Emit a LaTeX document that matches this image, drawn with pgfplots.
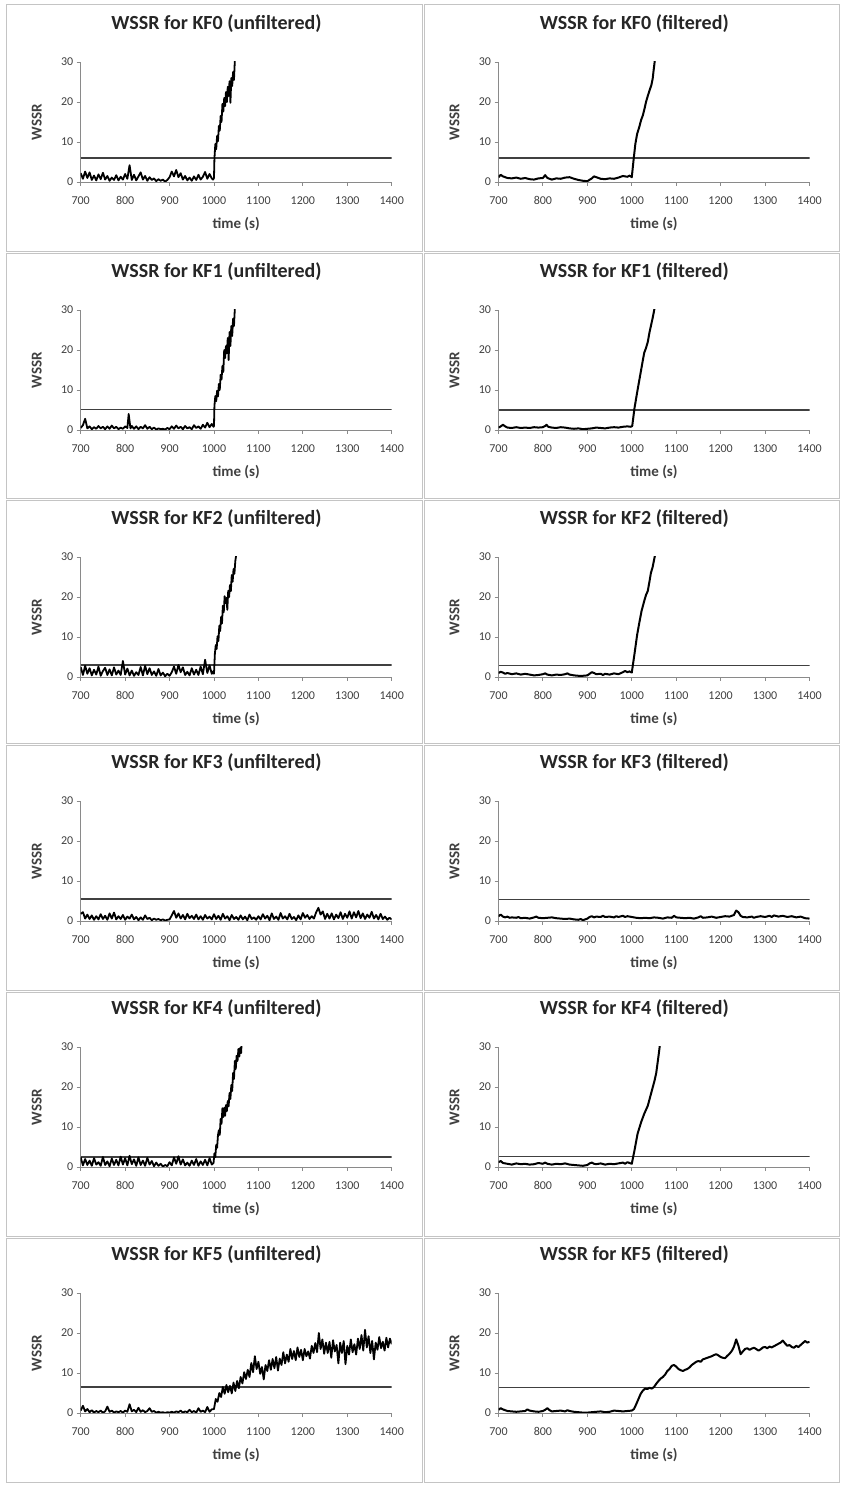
\documentclass[border=0pt]{standalone}
\usepackage{fontspec}
\setmainfont{Carlito}
\usepackage{pgfplots}
\pgfplotsset{compat=1.18}
\definecolor{axisgray}{HTML}{8A8A8A}
\definecolor{framegray}{HTML}{C4C4C4}
\definecolor{tickgray}{HTML}{404040}
\pgfplotsset{
  panel/.style={
    scale only axis, width=311pt, height=120pt,
    xmin=700, xmax=1400, ymin=0, ymax=30,
    axis lines=left, axis line style={draw=axisgray, line width=0.9pt, -},
    xtick={700,800,...,1400}, ytick={0,10,20,30},
    tick align=outside, major tick length=4pt,
    tick style={draw=axisgray, line width=0.9pt},
    every tick label/.append style={font=\fontsize{12}{14}\selectfont, text=tickgray},
    xticklabel style={yshift=-7pt},
    /pgf/number format/assume math mode=true,
    /pgf/number format/1000 sep={},
    xlabel={time (s)}, ylabel={WSSR},
    every axis label/.append style={font=\bfseries\fontsize{15}{17}\selectfont, text=tickgray},
    xlabel style={at={(axis description cs:0.5,-0.35)}, anchor=center},
    ylabel style={at={(axis description cs:-0.1415,0.5)}, anchor=center},
    title style={at={(axis description cs:0.4367,1.2667)}, anchor=center,
      font=\bfseries\fontsize{20}{24}\selectfont, text=black!85},
  },
  raw/.style={black, line width=1.8pt, line join=round},
  flt/.style={black, line width=2pt, line join=round},
  limit/.style={black!75, line width=1.2pt},
}
\begin{document}
\begin{tikzpicture}
\fill[white] (0pt,0pt) rectangle (841pt,1485pt);
\path[use as bounding box] (0pt,0pt) rectangle (841pt,1485pt);
% chart borders
\foreach \t/\b in {1480/1233, 1231/986, 984/741, 739/494, 492/248, 246/2}{
  \draw[framegray, line width=1pt] (6pt,\t pt) rectangle (422pt,\b pt);
  \draw[framegray, line width=1pt] (424pt,\t pt) rectangle (839pt,\b pt);
}

% ---------------- KF0 ----------------
\begin{axis}[panel, at={(80.7pt,1303pt)}, anchor=south west, title={WSSR for KF0 (unfiltered)}]
\addplot[limit] coordinates {(700,6) (1400,6)};
\addplot[raw] coordinates {
(700,2.2) (705,0.8) (710,2.6) (715,1.0) (720,2.4) (725,0.5) (730,1.6) (735,0.4) (740,1.9) (745,0.7)
(750,2.3) (755,0.6) (760,1.5) (765,0.3) (770,1.1) (775,0.5) (780,1.7) (785,0.4) (790,1.3) (795,0.6)
(800,2.0) (805,0.8) (810,4.2) (815,0.5) (820,1.8) (825,0.4) (830,1.4) (835,2.4) (840,0.6) (845,1.5)
(850,0.3) (855,1.2) (860,0.5) (865,0.9) (870,0.2) (875,0.7) (880,0.3) (885,0.6) (890,0.1) (895,0.5)
(900,1.2) (905,2.6) (910,1.4) (915,3.0) (920,1.2) (925,2.2) (930,0.6) (935,1.5) (940,0.4) (945,1.1)
(950,0.3) (955,1.4) (960,0.5) (965,1.8) (970,0.6) (975,1.3) (980,2.5) (985,0.8) (990,2.0) (995,0.9)
(998,0.6) (1000,1.0) (1001,5.8) (1003,9.5) (1005,8.2) (1007,11.5) (1009,10.2) (1011,14.0) (1013,12.8)
(1015,16.5) (1017,15.0) (1019,19.5) (1021,17.6) (1023,21.0) (1025,19.0) (1027,22.5) (1029,20.0)
(1031,23.8) (1033,21.5) (1035,25.2) (1037,19.8) (1039,26.0) (1041,24.0) (1043,27.5) (1045,25.5) (1047,30.5)
};
\end{axis}
\begin{axis}[panel, at={(498.5pt,1303pt)}, anchor=south west, title={WSSR for KF0 (filtered)}]
\addplot[limit] coordinates {(700,6) (1400,6)};
\addplot[flt] coordinates {
(700,1.2) (705,1.8) (710,1.4) (720,1.0) (730,0.9) (740,1.1) (750,0.8) (760,1.0) (770,0.7) (780,0.6)
(790,0.9) (800,1.0) (805,1.7) (810,1.0) (820,0.6) (830,0.9) (840,0.8) (850,1.1) (860,1.2) (870,0.8)
(880,0.5) (890,0.3) (900,0.2) (910,0.9) (915,1.4) (920,1.2) (930,0.8) (940,0.7) (950,0.9) (960,0.8)
(970,1.1) (980,1.5) (990,1.3) (995,1.6) (1000,1.2) (1004,5.5) (1008,9.5) (1012,12.0) (1017,13.8)
(1021,15.5) (1025,16.7) (1029,18.5) (1032,20.0) (1036,21.5) (1040,22.9) (1044,24.2) (1047,25.8)
(1049,27.8) (1052,30.5)
};
\end{axis}

% ---------------- KF1 ----------------
\begin{axis}[panel, at={(80.7pt,1055pt)}, anchor=south west, title={WSSR for KF1 (unfiltered)}]
\addplot[limit] coordinates {(700,5.1) (1400,5.1)};
\addplot[raw] coordinates {
(700,0.5) (705,1.2) (710,2.8) (715,0.4) (720,0.9) (725,0.2) (730,0.7) (735,0.3) (740,1.0) (745,0.4)
(750,0.8) (755,0.2) (760,0.9) (765,0.3) (770,1.1) (775,0.4) (780,0.8) (785,0.2) (790,0.6) (795,0.3)
(800,0.9) (805,0.5) (808,4.0) (812,0.4) (815,1.0) (820,0.3) (825,0.9) (830,0.2) (835,0.8) (840,0.4)
(845,1.2) (850,0.3) (855,0.8) (860,0.2) (865,0.6) (870,0.1) (875,0.4) (880,0.2) (885,0.3) (890,0.1)
(895,0.5) (900,0.2) (905,0.9) (910,0.3) (915,1.1) (920,0.4) (925,0.8) (930,0.2) (935,1.0) (940,0.4)
(945,0.7) (950,0.2) (955,1.2) (960,0.5) (965,0.9) (970,0.3) (975,1.3) (980,0.6) (985,1.8) (990,0.7)
(995,1.5) (999,0.8) (1000,1.0) (1001,6.0) (1003,8.5) (1005,7.2) (1007,9.8) (1009,8.4) (1011,11.5)
(1013,10.0) (1015,13.8) (1017,12.6) (1019,16.0) (1021,14.5) (1023,20.0) (1025,18.0) (1027,21.0)
(1029,19.2) (1031,23.0) (1033,17.5) (1035,24.5) (1037,21.0) (1039,26.0) (1041,23.5) (1043,27.8)
(1045,26.0) (1047,30.5)
};
\end{axis}
\begin{axis}[panel, at={(498.5pt,1055pt)}, anchor=south west, title={WSSR for KF1 (filtered)}]
\addplot[limit] coordinates {(700,5.0) (1400,5.0)};
\addplot[flt] coordinates {
(700,0.6) (705,0.9) (710,1.3) (715,0.9) (720,0.6) (730,0.5) (740,0.7) (750,0.5) (760,0.6) (770,0.5)
(780,0.7) (790,0.6) (800,0.7) (805,1.0) (808,1.3) (812,0.8) (820,0.6) (830,0.5) (840,0.7) (850,0.6)
(860,0.4) (870,0.3) (880,0.4) (890,0.2) (900,0.3) (910,0.4) (920,0.6) (930,0.5) (940,0.4) (950,0.6)
(960,0.7) (970,0.6) (980,0.8) (990,0.9) (998,0.8) (1001,1.0) (1006,5.4) (1013,10.0) (1021,15.0)
(1025,17.5) (1028,19.3) (1032,20.5) (1036,22.0) (1040,24.5) (1043,26.0) (1047,28.0) (1051,30.3)
};
\end{axis}

% ---------------- KF2 ----------------
\begin{axis}[panel, at={(80.7pt,808pt)}, anchor=south west, title={WSSR for KF2 (unfiltered)}]
\addplot[limit] coordinates {(700,3.0) (1400,3.0)};
\addplot[raw] coordinates {
(700,2.5) (705,0.5) (710,2.8) (715,0.8) (720,2.2) (725,0.4) (730,1.8) (735,0.6) (740,2.6) (745,0.3)
(750,1.5) (755,2.3) (760,0.5) (765,1.9) (770,0.4) (775,2.4) (780,0.6) (785,1.6) (790,0.5) (795,4.0)
(800,0.6) (805,2.1) (810,0.4) (815,1.6) (820,0.3) (825,1.2) (830,0.5) (835,2.5) (840,0.4) (845,2.8)
(850,0.7) (855,2.2) (860,0.5) (865,1.4) (870,0.3) (875,2.0) (880,0.4) (885,1.1) (890,0.2) (895,0.8)
(900,0.3) (905,1.2) (910,2.6) (915,0.8) (920,3.0) (925,1.2) (930,2.4) (935,0.5) (940,1.3) (945,0.4)
(950,2.2) (955,0.6) (960,1.8) (965,0.5) (970,2.6) (975,0.7) (980,4.3) (985,1.0) (990,2.9) (995,0.8)
(999,1.5) (1000,0.8) (1002,5.8) (1004,8.0) (1006,7.0) (1008,10.2) (1010,9.0) (1012,12.8) (1014,11.5)
(1016,15.0) (1018,13.4) (1020,17.8) (1022,16.2) (1024,20.2) (1026,18.5) (1028,19.8) (1030,16.8)
(1032,21.5) (1034,20.0) (1036,23.0) (1038,21.5) (1040,25.5) (1042,23.8) (1044,27.0) (1046,25.8)
(1048,29.0) (1050,30.5)
};
\end{axis}
\begin{axis}[panel, at={(498.5pt,808pt)}, anchor=south west, title={WSSR for KF2 (filtered)}]
\addplot[limit] coordinates {(700,2.8) (1400,2.8)};
\addplot[flt] coordinates {
(700,1.0) (705,1.3) (710,1.1) (715,0.8) (720,1.0) (730,0.7) (740,0.9) (750,0.6) (760,0.8) (770,0.6)
(780,0.4) (790,0.5) (800,0.7) (805,0.9) (810,0.6) (820,0.4) (830,0.6) (840,0.5) (850,0.7) (855,0.9)
(860,0.6) (870,0.4) (880,0.3) (890,0.3) (900,0.4) (905,0.8) (910,1.2) (915,1.0) (920,0.7) (930,0.8)
(935,0.5) (940,0.8) (950,0.6) (960,0.9) (970,0.7) (980,1.2) (985,1.5) (990,1.2) (995,1.4) (1000,1.1)
(1006,5.7) (1012,10.5) (1017,13.6) (1022,16.5) (1028,19.0) (1032,20.5) (1036,21.5) (1040,24.0)
(1043,26.0) (1047,27.5) (1052,30.3)
};
\end{axis}

% ---------------- KF3 ----------------
\begin{axis}[panel, at={(80.7pt,564pt)}, anchor=south west, title={WSSR for KF3 (unfiltered)}]
\addplot[limit] coordinates {(700,5.5) (1400,5.5)};
\addplot[raw] coordinates {
(700,1.8) (705,2.2) (710,0.6) (715,1.6) (720,0.5) (725,1.4) (730,0.3) (735,1.2) (740,0.4) (745,1.7)
(750,0.5) (755,1.3) (760,0.3) (765,1.9) (770,0.6) (775,2.1) (780,0.4) (785,1.2) (790,0.5) (795,1.5)
(800,0.3) (805,1.1) (810,0.6) (815,1.6) (820,0.4) (825,1.0) (830,0.2) (835,0.9) (840,0.3) (845,1.4)
(850,0.5) (855,0.8) (860,0.2) (865,0.6) (870,0.3) (875,0.5) (880,0.2) (885,0.4) (890,0.1) (895,0.3)
(900,0.4) (905,1.4) (910,2.5) (915,0.8) (920,1.9) (925,0.6) (930,1.5) (935,0.4) (940,1.8) (945,0.7)
(950,1.3) (955,0.5) (960,1.6) (965,0.4) (970,1.2) (975,0.3) (980,1.5) (985,0.6) (990,1.1) (995,0.4)
(1000,1.7) (1005,0.5) (1010,1.3) (1015,0.3) (1020,1.8) (1025,0.6) (1030,1.2) (1035,0.2) (1040,1.5)
(1045,0.5) (1050,1.0) (1055,0.3) (1060,1.4) (1065,0.4) (1070,1.1) (1075,0.2) (1080,1.6) (1085,0.5)
(1090,0.9) (1095,0.3) (1100,1.2) (1105,0.4) (1110,1.7) (1115,0.6) (1120,1.3) (1125,0.2) (1130,1.9)
(1135,0.5) (1140,1.1) (1145,0.3) (1150,2.0) (1155,0.6) (1160,1.2) (1165,0.4) (1170,1.8) (1175,0.5)
(1180,1.0) (1185,0.2) (1190,1.4) (1195,0.4) (1200,2.0) (1205,0.8) (1210,1.5) (1215,0.5) (1220,1.2)
(1225,0.6) (1230,2.2) (1235,3.3) (1240,1.6) (1245,2.4) (1250,0.5) (1255,1.8) (1260,0.6) (1265,1.9)
(1270,0.4) (1275,1.6) (1280,0.7) (1285,2.2) (1290,0.5) (1295,1.8) (1300,0.8) (1305,2.4) (1310,0.6)
(1315,2.2) (1320,0.9) (1325,2.5) (1330,0.7) (1335,1.9) (1340,0.5) (1345,1.6) (1350,0.8) (1355,2.3)
(1360,0.6) (1365,1.5) (1370,0.4) (1375,1.8) (1380,0.5) (1385,1.1) (1390,0.3) (1395,0.8) (1400,0.4)
};
\end{axis}
\begin{axis}[panel, at={(498.5pt,564pt)}, anchor=south west, title={WSSR for KF3 (filtered)}]
\addplot[limit] coordinates {(700,5.4) (1400,5.4)};
\addplot[flt] coordinates {
(700,1.2) (705,1.6) (710,1.1) (715,0.9) (720,1.1) (725,0.8) (730,0.9) (740,0.8) (745,1.0) (750,0.7)
(760,0.8) (770,0.6) (780,0.9) (785,1.1) (790,0.8) (800,0.7) (810,0.8) (820,0.9) (830,0.7) (840,0.6)
(850,0.5) (860,0.6) (870,0.4) (880,0.3) (885,0.5) (890,0.2) (900,0.6) (905,1.0) (910,1.2) (915,0.9)
(920,1.1) (930,1.0) (935,1.3) (940,1.0) (950,1.1) (960,0.9) (965,1.2) (970,1.0) (980,1.3) (985,1.0)
(990,1.2) (1000,1.0) (1010,0.8) (1020,0.7) (1030,0.8) (1040,0.7) (1050,0.9) (1060,0.8) (1070,0.6)
(1080,0.9) (1090,0.8) (1095,1.3) (1100,0.9) (1110,0.8) (1120,0.7) (1130,0.8) (1140,0.6) (1150,0.9)
(1155,1.2) (1160,0.8) (1170,0.9) (1180,1.1) (1190,0.8) (1200,1.0) (1210,1.2) (1220,1.1) (1230,1.5)
(1235,2.6) (1240,2.2) (1245,1.3) (1250,1.0) (1260,0.9) (1270,1.1) (1275,0.8) (1280,1.0) (1290,1.2)
(1300,1.0) (1310,1.3) (1315,1.0) (1320,1.4) (1330,1.1) (1340,1.3) (1350,1.0) (1360,1.2) (1370,0.9)
(1380,1.1) (1390,0.7) (1400,0.6)
};
\end{axis}

% ---------------- KF4 ----------------
\begin{axis}[panel, at={(80.7pt,318pt)}, anchor=south west, title={WSSR for KF4 (unfiltered)}]
\addplot[limit] coordinates {(700,2.5) (1400,2.5)};
\addplot[raw] coordinates {
(700,2.4) (705,0.4) (710,2.0) (715,0.5) (720,1.6) (725,0.3) (730,2.2) (735,0.6) (740,1.2) (745,0.3)
(750,2.5) (755,0.5) (760,1.4) (765,0.2) (770,2.1) (775,0.5) (780,1.8) (785,0.4) (790,2.6) (795,0.6)
(800,2.2) (805,0.4) (810,2.8) (815,0.7) (820,1.9) (825,0.3) (830,2.4) (835,0.5) (840,1.6) (845,0.3)
(850,2.3) (855,0.6) (860,1.5) (865,0.2) (870,1.1) (875,0.3) (880,0.8) (885,0.1) (890,0.5) (895,0.2)
(900,1.2) (905,0.4) (910,2.4) (915,0.8) (920,2.7) (925,0.6) (930,1.9) (935,0.4) (940,1.1) (945,0.3)
(950,1.6) (955,0.5) (960,2.0) (965,0.3) (970,1.4) (975,0.5) (980,1.8) (985,0.4) (990,2.2) (995,0.6)
(999,1.0) (1001,3.4) (1003,2.5) (1005,5.5) (1007,4.8) (1009,8.0) (1011,9.2) (1013,8.0) (1015,12.0)
(1017,10.8) (1019,14.7) (1021,12.5) (1023,14.8) (1025,12.8) (1027,15.5) (1029,14.0) (1031,16.5)
(1033,15.2) (1035,18.5) (1037,17.0) (1039,20.5) (1041,19.0) (1043,23.5) (1045,22.0) (1047,26.5)
(1049,24.5) (1051,27.8) (1053,26.5) (1055,29.5) (1057,27.6) (1059,29.8) (1061,28.5) (1062,30.5)
};
\end{axis}
\begin{axis}[panel, at={(498.5pt,318pt)}, anchor=south west, title={WSSR for KF4 (filtered)}]
\addplot[limit] coordinates {(700,2.65) (1400,2.65)};
\addplot[flt] coordinates {
(700,1.2) (705,1.5) (710,1.0) (720,0.8) (730,0.6) (740,0.9) (750,0.7) (760,0.8) (770,0.6) (780,0.7)
(790,1.0) (800,0.8) (805,1.1) (810,0.8) (820,0.6) (830,0.8) (840,0.7) (850,0.9) (860,0.6) (870,0.5)
(880,0.4) (890,0.3) (900,0.5) (905,0.9) (910,1.1) (915,0.8) (920,0.7) (930,0.9) (940,0.6) (950,0.8)
(960,0.7) (970,0.9) (980,1.1) (985,0.8) (990,1.2) (995,1.0) (1000,0.8) (1006,4.1) (1013,8.3)
(1021,11.2) (1028,13.3) (1036,15.3) (1043,18.2) (1051,21.5) (1055,23.5) (1058,26.0) (1061,28.5)
(1063,30.3)
};
\end{axis}

% ---------------- KF5 ----------------
\begin{axis}[panel, at={(80.7pt,72pt)}, anchor=south west, title={WSSR for KF5 (unfiltered)}]
\addplot[limit] coordinates {(700,6.5) (1400,6.5)};
\addplot[raw] coordinates {
(700,0.6) (705,1.8) (710,0.4) (715,1.0) (720,0.2) (725,0.7) (730,0.1) (735,0.5) (740,0.2) (745,0.6)
(750,0.1) (755,0.4) (760,1.6) (765,0.3) (770,0.6) (775,0.1) (780,0.4) (785,0.2) (790,0.5) (795,0.1)
(800,0.6) (805,0.3) (810,2.2) (815,0.4) (820,0.8) (825,0.2) (830,1.3) (835,0.3) (840,0.7) (845,0.2)
(850,0.5) (855,1.2) (860,0.3) (865,0.5) (870,0.1) (875,0.3) (880,0.1) (885,0.2) (890,0.0) (895,0.2)
(900,0.1) (905,0.3) (910,0.1) (915,0.4) (920,0.2) (925,0.6) (930,0.1) (935,0.4) (940,0.2) (945,0.8)
(950,0.2) (955,0.5) (960,0.1) (965,1.2) (970,0.3) (975,0.6) (980,0.2) (985,1.5) (990,0.3) (995,0.9)
(1000,1.0) (1004,3.5) (1008,2.8) (1012,5.0) (1016,4.0) (1020,6.5) (1024,4.8) (1028,7.0) (1032,5.2)
(1036,6.8) (1040,4.9) (1044,7.6) (1048,5.5) (1052,8.0) (1056,6.2) (1060,9.0) (1064,7.4) (1068,10.2)
(1072,8.5) (1076,10.8) (1080,9.0) (1084,12.5) (1088,10.2) (1092,14.2) (1096,11.0) (1100,12.8)
(1104,9.8) (1108,11.5) (1112,8.4) (1116,12.0) (1120,10.5) (1124,13.2) (1128,10.8) (1132,13.5)
(1136,11.2) (1140,14.0) (1144,10.6) (1148,13.6) (1152,12.0) (1156,15.2) (1160,12.4) (1164,14.6)
(1168,12.8) (1172,16.0) (1176,13.5) (1180,15.5) (1184,13.2) (1188,16.4) (1192,14.0) (1196,15.8)
(1200,13.2) (1204,16.0) (1208,14.2) (1212,15.4) (1216,13.6) (1220,16.8) (1224,15.0) (1228,17.5)
(1232,15.2) (1236,20.0) (1240,16.0) (1244,18.4) (1248,14.8) (1252,17.6) (1256,15.0) (1260,17.8)
(1264,13.8) (1268,18.2) (1272,15.4) (1276,17.0) (1280,12.4) (1284,17.6) (1288,15.0) (1292,18.0)
(1296,12.2) (1300,16.8) (1304,14.6) (1308,18.4) (1312,15.2) (1316,17.2) (1320,14.6) (1324,18.6)
(1328,16.0) (1332,19.5) (1336,15.6) (1340,20.8) (1344,16.4) (1348,19.2) (1352,15.0) (1356,18.0)
(1360,13.4) (1364,17.6) (1368,15.8) (1372,19.0) (1376,16.2) (1380,17.8) (1384,15.6) (1388,18.8)
(1392,16.4) (1396,18.6) (1400,17.2)
};
\end{axis}
\begin{axis}[panel, at={(498.5pt,72pt)}, anchor=south west, title={WSSR for KF5 (filtered)}]
\addplot[limit] coordinates {(700,6.4) (1400,6.4)};
\addplot[flt] coordinates {
(700,0.8) (705,1.2) (710,0.9) (720,0.5) (730,0.4) (740,0.3) (750,0.4) (760,0.5) (765,0.9) (770,0.6)
(780,0.4) (790,0.3) (800,0.5) (805,0.8) (810,1.2) (815,0.7) (820,0.4) (830,0.5) (840,0.6) (850,0.4)
(855,0.7) (860,0.5) (870,0.3) (880,0.2) (890,0.1) (900,0.1) (910,0.2) (920,0.3) (930,0.4) (940,0.2)
(950,0.3) (960,0.6) (970,0.5) (980,0.4) (990,0.5) (1000,0.6) (1005,1.0) (1010,2.2) (1015,3.5)
(1020,4.8) (1025,5.6) (1030,6.1) (1035,6.0) (1040,6.3) (1045,6.1) (1050,6.5) (1055,7.3) (1060,8.0)
(1065,8.6) (1070,9.0) (1075,9.6) (1080,10.5) (1085,11.0) (1090,11.8) (1095,12.0) (1100,11.6)
(1105,11.0) (1110,10.7) (1115,10.5) (1120,10.8) (1125,11.0) (1130,11.4) (1135,12.0) (1140,12.4)
(1145,12.8) (1150,13.0) (1155,12.8) (1160,13.4) (1165,13.6) (1170,13.8) (1175,14.0) (1180,14.2)
(1185,14.5) (1190,14.7) (1195,14.4) (1200,14.0) (1205,13.8) (1210,13.7) (1215,14.3) (1220,14.8)
(1225,15.5) (1230,16.6) (1235,18.4) (1240,16.8) (1245,14.7) (1250,15.4) (1255,16.0) (1260,16.2)
(1265,15.8) (1270,16.1) (1275,16.3) (1280,16.0) (1285,15.6) (1290,15.9) (1295,16.4) (1300,16.5)
(1305,16.2) (1310,16.6) (1315,16.4) (1320,16.7) (1325,17.0) (1330,17.3) (1335,17.6) (1340,18.1)
(1345,17.4) (1350,16.8) (1355,17.0) (1360,16.5) (1365,16.3) (1370,16.8) (1375,16.5) (1380,17.0)
(1385,17.5) (1390,18.0) (1395,17.6) (1400,17.8)
};
\end{axis}
\end{tikzpicture}
\end{document}
